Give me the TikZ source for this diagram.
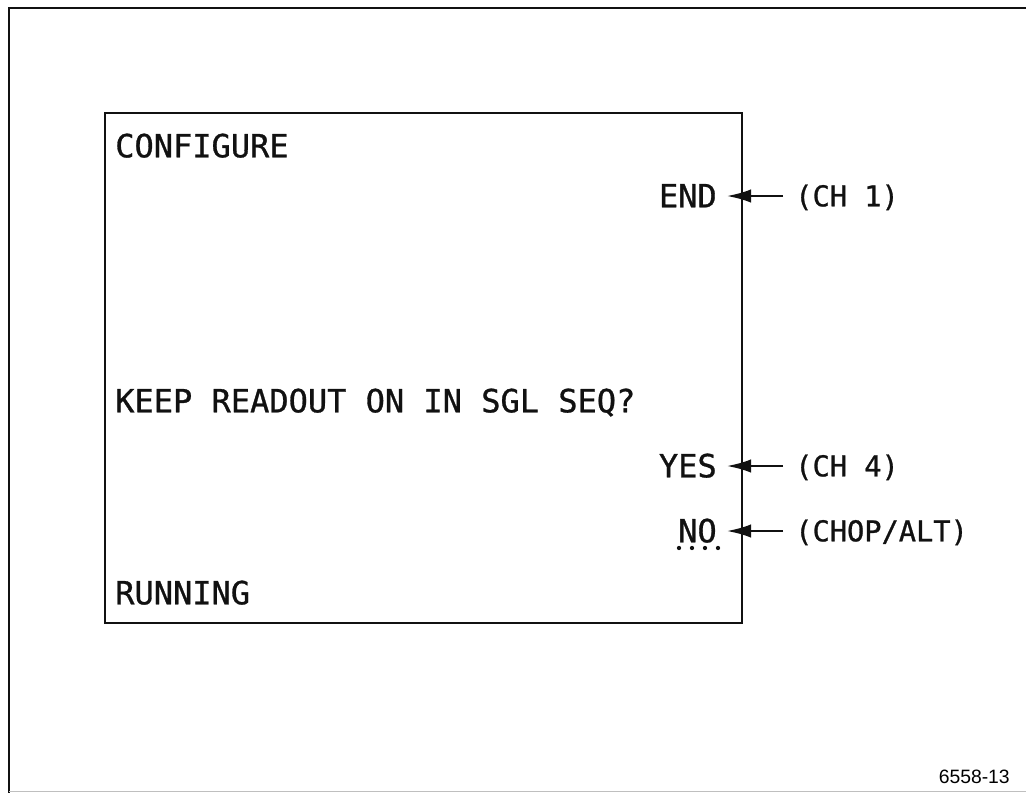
\documentclass[tikz,border=0pt]{standalone}
\usepackage{fontspec}
\usepackage{tikz}
\usetikzlibrary{arrows.meta,positioning}
\newfontfamily\crtfont[FakeBold=0.9]{DejaVu Sans Mono}
\newfontfamily\figfont{Liberation Sans}
\definecolor{scrink}{HTML}{111111}
\tikzset{
  frm/.style={line width=1.5pt, color=scrink},
  scr/.style={font=\crtfont\fontsize{24}{28}\selectfont, inner sep=0pt, text height=17pt, text depth=0pt, color=scrink},
  key/.style={font=\crtfont\fontsize{21.5}{26}\selectfont, inner ysep=0pt, inner xsep=9pt, text height=15.5pt, text depth=0pt, color=scrink},
  ptr/.style={-{Latex[length=18pt, width=10pt]}, line width=1.5pt, color=scrink, shorten >=7.5pt},
  fig/.style={font=\figfont\fontsize{14.5}{17}\selectfont, inner sep=0pt},
}

\begin{document}
\begin{tikzpicture}[x=0.75pt, y=-0.75pt]
  \useasboundingbox (0,0) rectangle (1026,793);
  % page frame
  \draw[frm] (9,793) -- (9,8) -- (1026,8);
  \draw[black!25, line width=0.6pt] (9,791) -- (1026,791);
  % screen
  \draw[frm] (105,113) rectangle (742,623);
  \node[scr, anchor=west] (cfg) at (115,146) {CONFIGURE};
  \node[scr, anchor=west] (ask) at (115,401) {KEEP READOUT ON IN SGL SEQ?};
  \node[scr, anchor=west] (run) at (115,593) {RUNNING};
  \node[scr, anchor=east] (end) at (717,196) {END};
  \node[scr, anchor=east] (yes) at (717,466) {YES};
  \node[scr, anchor=east] (no) at (717,531) {NO};
  \foreach \x in {679,692,705,718}
    \fill[scrink] (\x,548) circle (1.6pt);
  % front panel buttons
  \node[key, anchor=west] (ch1) at (783,196) {(CH 1)};
  \node[key, anchor=west] (ch4) at (783,466) {(CH 4)};
  \node[key, anchor=west] (chop) at (783,531) {(CHOP/ALT)};
  \draw[ptr] (ch1.west) -- (end.east);
  \draw[ptr] (ch4.west) -- (yes.east);
  \draw[ptr] (chop.west) -- (no.east);
  \node[fig, anchor=base east] (num) at (1010,783) {6558-13};
\end{tikzpicture}
\end{document}
